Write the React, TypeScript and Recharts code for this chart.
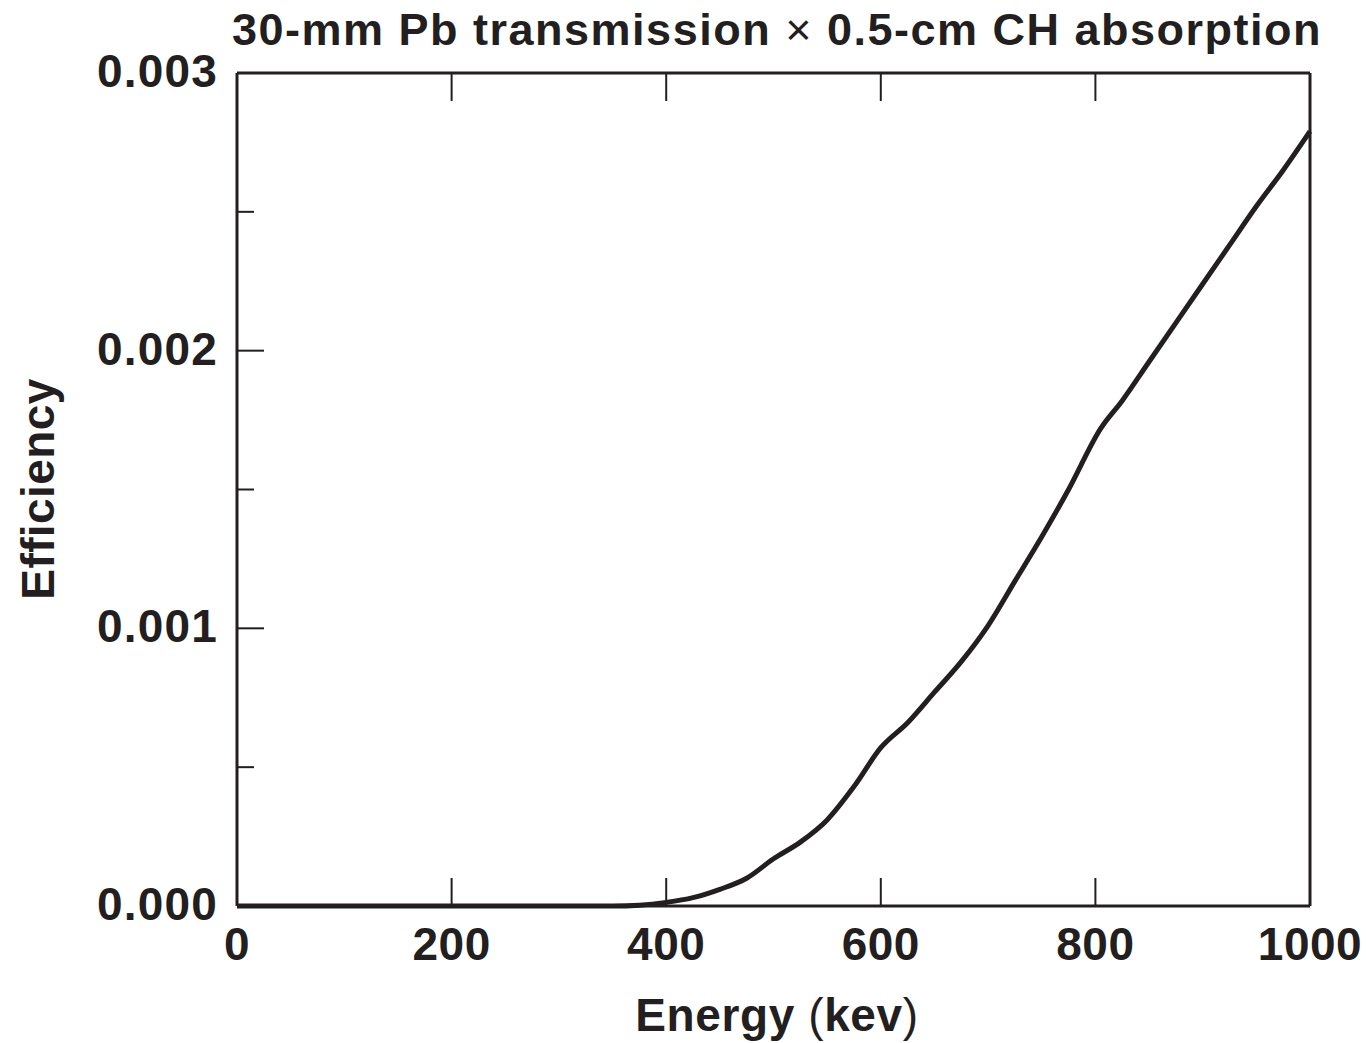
import { LineChart, Line, XAxis, YAxis } from 'recharts';

const energy = [0, 50, 100, 150, 200, 250, 300, 350, 375, 400, 425, 450, 475, 500, 525, 550, 575, 600, 625, 650, 675, 700, 725, 750, 775, 805, 825, 850, 875, 900, 925, 950, 975, 1000];
const efficiency = [0, 0, 0, 0, 0, 0, 0, 0, 0.000003, 0.000013, 0.00003, 0.00006, 0.0001, 0.00017, 0.00023, 0.00031, 0.00043, 0.00057, 0.00066, 0.00077, 0.00088, 0.00101, 0.00117, 0.00133, 0.0015, 0.00172, 0.00182, 0.00196, 0.0021, 0.00224, 0.00238, 0.00252, 0.00265, 0.00279];

const xTicks = [0, 200, 400, 600, 800, 1000];
const yTicks = [0, 0.0005, 0.001, 0.0015, 0.002, 0.0025, 0.003];
const yLabeled = [0, 0.001, 0.002, 0.003];

const data = energy.map((e, i) => ({ energy: e, eff: efficiency[i] }));

const INK = '#231f20';
const FONT = '"Liberation Sans", Arial, Helvetica, sans-serif';

const XTick = (props: any) => {
  const { x, y, payload, top } = props;
  return (
    <g>
      <line x1={x} x2={x} y1={y} y2={top ? y + 28 : y - 28} stroke={INK} strokeWidth={2} />
      {!top && (
        <text x={x} y={y + 54} textAnchor="middle" fontFamily={FONT} fontWeight="bold" fontSize={46} letterSpacing={0.5} fill={INK}>
          {payload.value}
        </text>
      )}
    </g>
  );
};

const YTick = (props: any) => {
  const { x, y, payload, right } = props;
  const major = yLabeled.includes(payload.value);
  const len = major ? 27 : 17;
  return (
    <g>
      <line x1={x} x2={right ? x - len : x + len} y1={y} y2={y} stroke={INK} strokeWidth={2} />
      {!right && major && (
        <text x={x - 19} y={y + 14} textAnchor="end" fontFamily={FONT} fontWeight="bold" fontSize={46} letterSpacing={1.2} fill={INK}>
          {payload.value.toFixed(3)}
        </text>
      )}
    </g>
  );
};

export default function App() {
  return (
    <div style={{ position: 'absolute', left: 0, top: 0, background: '#fff' }}>
      <LineChart width={1366} height={1043} data={data} margin={{ top: 53, right: 36, left: 177, bottom: 77 }}>
        <XAxis
          xAxisId="bottom"
          dataKey="energy"
          type="number"
          domain={[0, 1000]}
          ticks={xTicks}
          height={60}
          tickSize={0}
          tickMargin={0}
          tickLine={false}
          axisLine={{ stroke: INK, strokeWidth: 3 }}
          tick={<XTick />}
          interval={0}
          label={{
            content: () => (
              <text x={777} y={1031} textAnchor="middle" fontFamily={FONT} fontWeight="bold" fontSize={46} letterSpacing={0.6} fill={INK}>
                Energy <tspan fontWeight="normal">(</tspan>kev<tspan fontWeight="normal">)</tspan>
              </text>
            ),
          }}
        />
        <XAxis
          xAxisId="top"
          orientation="top"
          dataKey="energy"
          type="number"
          domain={[0, 1000]}
          ticks={xTicks}
          height={20}
          tickSize={0}
          tickMargin={0}
          tickLine={false}
          axisLine={{ stroke: INK, strokeWidth: 3 }}
          tick={<XTick top />}
          interval={0}
          label={{
            content: () => (
              <text x={777} y={45} textAnchor="middle" fontFamily={FONT} fontWeight="bold" fontSize={45} letterSpacing={1.5} fill={INK}>
                30-mm Pb transmission <tspan fontWeight="normal">×</tspan> 0.5-cm CH absorption
              </text>
            ),
          }}
        />
        <YAxis
          yAxisId="left"
          type="number"
          domain={[0, 0.003]}
          ticks={yTicks}
          width={60}
          tickSize={0}
          tickMargin={0}
          tickLine={false}
          axisLine={{ stroke: INK, strokeWidth: 3 }}
          tick={<YTick />}
          interval={0}
          label={{
            content: () => (
              <text x={54} y={489} transform="rotate(-90 54 489)" textAnchor="middle" fontFamily={FONT} fontWeight="bold" fontSize={46} letterSpacing={0.4} fill={INK}>
                Efficiency
              </text>
            ),
          }}
        />
        <YAxis
          yAxisId="right"
          orientation="right"
          type="number"
          domain={[0, 0.003]}
          ticks={yTicks}
          width={20}
          tickSize={0}
          tickMargin={0}
          tickLine={false}
          axisLine={{ stroke: INK, strokeWidth: 3 }}
          tick={<YTick right />}
          interval={0}
        />
        <Line
          xAxisId="bottom"
          yAxisId="left"
          dataKey="eff"
          type="monotone"
          stroke={INK}
          strokeWidth={5}
          dot={false}
          isAnimationActive={false}
        />
      </LineChart>
    </div>
  );
}
